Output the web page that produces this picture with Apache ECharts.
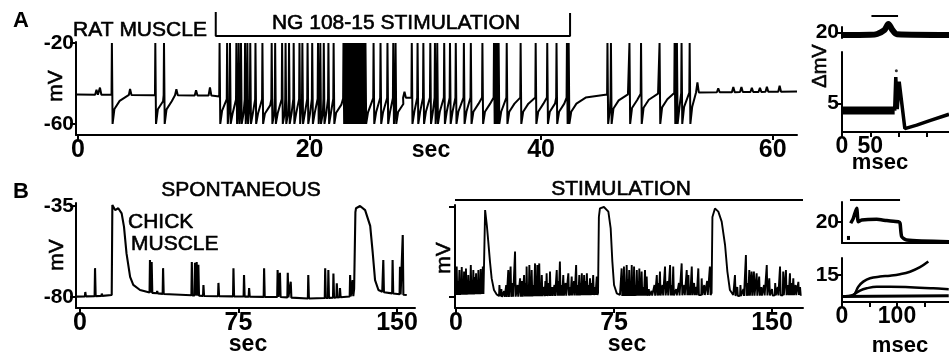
<!DOCTYPE html>
<html>
<head>
<meta charset="utf-8">
<title>NG108-15 stimulation of muscle</title>
<style>
  html, body { margin: 0; padding: 0; background: #fff; }
  #chart { width: 949px; height: 356px; }
</style>
</head>
<body>
<div id="chart"></div>
<script src="https://cdn.jsdelivr.net/npm/echarts@6.0.0/dist/echarts.min.js"></script>
<script>
// ---------- panel A : rat muscle (sec, mV) ----------
var aTicksX = [0, 20, 40, 60];
var aTicksY = [-20, -60];
var aStim = [11.9, 42.5];
var aSpikes = [2.9, 6.65, 7.4,
  12.2, 12.85, 13.1, 13.65, 13.85, 14.05, 14.4, 14.6, 14.85, 15.3, 15.9, 16.7, 17.0, 17.6, 17.9, 18.2, 18.6,
  19.1, 19.35, 19.8, 20.2, 20.7, 20.9, 21.2, 21.6, 22.05,
  22.9, 22.98, 23.06, 23.14, 23.22, 23.3, 23.38, 23.46, 23.54, 23.62, 23.7, 23.78, 23.86, 23.94,
  24.02, 24.1, 24.18, 24.26, 24.34, 24.42, 24.5, 24.58, 24.66, 24.74, 24.8,
  25.5, 26.1, 26.7, 27.2, 27.4,
  28.8, 29.3, 29.8, 30.4, 30.8, 31.0, 31.6, 32.1, 32.6, 33.3, 33.9, 34.9, 35.9, 36.05, 36.2, 36.3,
  37.0, 38.2, 39.5, 40.5, 41.3, 42.2, 42.35,
  45.7, 46.0, 47.6, 48.6, 50.2, 51.5, 51.6, 51.7, 52.1, 52.8];
var aPeak = -20, aTrough = -60;
// small synaptic bumps [t, height mV]
var aBumps = [[1.6, 2.5], [1.9, 3.5], [4.5, 3], [8.5, 3], [10.2, 2.5], [11.4, 4], [28.2, 3],
  [53.5, 5], [55.3, 2], [56.6, 2.5], [57.3, 2.5], [58.2, 2], [58.9, 2], [59.5, 2.5], [60.6, 3]];
var aBase = [[0, -45.5], [12, -46], [13, -48], [30, -47], [42.5, -47], [45, -45.5], [53, -44.5], [62, -44]];

// A insets (msec)
var aInsTicks = [0, 50, 100, 150];
var aInsLabels = [0, 50];
var aInsTopX = [0, 50, 62, 75, 82, 89, 97, 189];
var aInsTopY = [18.2, 18.4, 19, 22, 26.5, 22, 18.8, 18.3];
var aInsBar = [52, 99];
var aInsBandX = [0, 93];
var aInsBandY = [3.75, 3.75];
var aInsLowX = [93, 95, 97.5, 101, 111, 132, 155, 189];
var aInsLowY = [3.75, 9.6, 4, 8.8, 0.6, 1.2, 2, 3.1];
var aInsDot = [[96, 10.7]];

// ---------- panel B : chick muscle (sec, mV) ----------
var bTicksX = [0, 75, 150];
var bTicksY = [-35, -80];
var bLeftSpikes = [[2.5, -77.5], [7.1, -65.7], [10.3, -78.3], [33.1, -61.7], [33.9, -62.7], [36.5, -77], [39.3, -65.7],
  [52.9, -62.7], [54.4, -63], [55.2, -62.7], [56.0, -64], [58.4, -74], [65.5, -73], [72.6, -65.8], [77.6, -69.1],
  [80, -75.5], [87.1, -65.8], [93.5, -66.6], [94.6, -68], [98.3, -68], [99.7, -72.4], [108, -69.1], [116, -65.8],
  [117.5, -66.6], [119.9, -68.3], [121.5, -73.2], [123, -75.5], [127.8, -69.1], [129, -71.6],
  [143.5, -61.7], [147.9, -61.7], [151.4, -65], [152.7, -49.3]];
var bLeftPlateaus = [
  [[15.0, -79], [15.3, -34.5], [16.6, -37], [18.1, -36.1], [19.7, -38.6], [20.8, -45.2], [22, -58.4], [23.7, -70], [25.2, -74], [28.4, -76.5]],
  [[129.7, -76], [130.3, -38], [130.6, -36.1], [132.5, -35], [134.9, -37], [137.3, -44.8], [138.5, -58.2], [139.6, -71.6], [141.2, -76.5], [143.0, -77.4]]
];
var bLeftBase = [[-1.8, -79.8], [14.9, -79.3], [30, -77.5], [40, -78.5], [60, -79.5], [95, -80], [110, -80.8],
  [125, -80], [129.5, -79.5], [143.2, -77.5], [150, -78.5], [154.6, -79]];

var bMidSpikes = [[0.3, -64.8], [1.6, -66.5], [2.7, -65], [3.8, -67.3], [4.7, -65.7], [5.8, -69], [7, -64], [8.2, -66.5],
  [9.5, -68.2], [10.6, -66.5], [11.7, -66], [12.7, -64.8],
  [20.6, -74], [24.8, -66.5], [25.9, -64.8], [28, -57.3], [30.4, -70.7], [32.3, -69], [33.5, -64.8], [34.8, -64],
  [35.9, -66.5], [37.5, -63.2], [38.6, -64], [39.5, -63.2], [40.7, -69], [43, -68.2], [44.6, -67.3], [47.8, -66.5],
  [49.3, -62.3], [50.9, -69], [53.3, -68.2], [54.9, -69.8], [57, -64], [58.5, -69], [59.7, -68.2], [60.8, -69],
  [62.1, -68.2], [63.6, -70.7], [65.1, -69], [66.8, -69.8],
  [78.6, -65.7], [79.7, -64.8], [81, -64], [82.2, -66.5], [83.4, -64], [84.5, -64.8], [85.8, -66.5], [87, -65.7],
  [88.1, -67.3], [89.7, -66.5], [90.5, -69.8], [95.3, -69], [96.8, -67.3], [99.2, -64.8], [101.6, -64], [103.1, -64.8],
  [107.1, -63.2], [109.5, -66.5], [110.3, -69], [111.9, -64.8], [115, -65.7], [116.6, -70.7], [120.5, -64.8],
  [132.4, -69], [137.6, -59], [139.2, -66.5], [140.3, -67.3], [141.4, -67.3], [142.7, -68.2], [143.9, -69.8],
  [147.5, -64], [148.7, -70.7], [153.8, -64.8], [155.3, -67.3], [156.6, -66.5], [158.5, -68.2], [160.1, -70.7], [162.5, -72.4]];
// low, dense events between the larger ones
var bMidSmall = [[0.9, -72], [2.2, -74], [3.3, -71], [4.2, -73], [5.3, -75], [6.4, -72], [7.6, -74], [8.9, -70],
  [10.1, -72], [11.2, -73], [12.2, -71],
  [21.5, -76], [22.8, -77], [23.8, -74], [26.8, -73], [29.2, -74], [31.3, -72], [33, -73], [34.2, -74], [35.3, -72],
  [36.7, -74], [38.1, -73], [40.1, -74], [41.8, -75], [42.4, -72], [44, -73], [45.6, -75], [46.7, -74], [48.5, -72],
  [50.1, -74], [52, -73], [54.1, -75], [56, -72], [57.8, -74], [59.1, -73], [60.2, -74], [61.5, -72], [62.8, -74],
  [64.3, -73], [65.9, -75],
  [79.1, -72], [80.3, -74], [81.6, -71], [82.8, -73], [84, -72], [85.2, -74], [86.4, -72], [87.5, -73], [88.9, -75],
  [91.5, -76], [92.8, -77], [94.2, -74], [96, -73], [98, -74], [100.4, -72], [102.4, -74], [104.5, -76], [105.8, -73],
  [108.3, -74], [110.9, -75], [113, -73], [114, -75], [117.8, -74], [119.2, -72],
  [133.5, -75], [135, -74], [136.4, -76], [138.4, -73], [144.9, -75], [146.2, -74], [150, -76], [151.5, -73],
  [152.7, -75], [157.6, -74], [159.3, -73], [161.2, -74], [163.3, -75]];
var bMidPlateaus = [
  [[13.6, -78], [13.8, -36.5], [14.6, -44], [15.3, -52.3], [16.1, -62.3], [16.9, -70.7], [18, -76.5], [19.3, -78.7]],
  [[67.4, -78], [67.8, -40], [68.3, -35.7], [70.2, -35], [72.3, -37.3], [73.4, -45.7], [74.2, -62.3], [75, -74], [76.3, -78.2], [77.8, -79]],
  [[121.3, -78], [121.7, -40], [122.9, -35.7], [124.5, -37.3], [126.1, -42.3], [127.7, -54], [128.8, -67.3], [130, -76.5], [131.6, -79]]
];
var bMidBase = [[-0.3, -79], [13, -78.5], [19.5, -79.3], [22, -80], [66, -79], [78, -79.5], [120, -79], [132, -79.5], [164, -79]];
var bStim = [-0.5, 164.7];

// B insets (msec)
var bInsTicks = [0, 50, 100, 150];
var bInsLabels = [0, 100];
var bInsTopStartX = [9, 14.5];
var bInsTopStartY = [4.8, 4.8];
var bInsTopX = [15.8, 20.5, 26.7, 29.6, 35.8, 63, 81.3, 102.4, 105.5, 108.5, 117.6, 195];
var bInsTopY = [18.8, 23.5, 33, 20.3, 21.9, 22.5, 21.3, 20.3, 18.8, 6, 2.9, 1.2];
var bInsBar = [14.5, 105.5];
var bInsUpX = [0, 20.5, 29.6, 38.7, 50.9, 69.1, 87.3, 105.5, 123.6, 141.8, 156.9];
var bInsUpY = [3.1, 3.9, 8.5, 11.3, 13.2, 14.1, 14.6, 15.4, 16.8, 19.3, 22.4];
var bInsMidX = [20.5, 32.7, 44.9, 63.1, 87.3, 123.6, 166, 194];
var bInsMidY = [3.9, 6.3, 7.6, 8.5, 8.5, 8.2, 7.6, 7.1];
var bInsLowX = [0, 60, 194];
var bInsLowY = [3.0, 3.2, 3.5];
var bInsArrow = [[36, 25], [69, 15]];

// ---------- helpers ----------
var INK = '#000';
var NUM = "'Liberation Sans Narrow', 'Liberation Sans', sans-serif";
var TXT = "'Liberation Sans', 'DejaVu Sans', sans-serif";

function zip(xs, ys) { return xs.map(function (x, i) { return [x, ys[i]]; }); }

function interp(knots, t) {
  if (t <= knots[0][0]) return knots[0][1];
  for (var i = 1; i < knots.length; i++) {
    if (t <= knots[i][0]) {
      var a = knots[i - 1], b = knots[i];
      return a[1] + (b[1] - a[1]) * (t - a[0]) / (b[0] - a[0]);
    }
  }
  return knots[knots.length - 1][1];
}

// rat muscle trace: spike up, undershoot down, slow recovery
function buildA() {
  var ev = aSpikes.map(function (t) { return { t: t, s: true }; })
    .concat(aBumps.map(function (b) { return { t: b[0], h: b[1] }; }))
    .sort(function (a, b) { return a.t - b.t; });
  var pts = [[-0.1, interp(aBase, 0)]];
  ev.forEach(function (e, i) {
    var next = i + 1 < ev.length ? ev[i + 1].t : 62.1;
    var b = interp(aBase, e.t);
    if (e.s) {
      pts.push([e.t, b], [e.t + 0.03, aPeak], [e.t + 0.09, aTrough]);
      [[0.25, -7], [0.7, -3], [1.5, 0]].forEach(function (r) {
        if (e.t + r[0] < next - 0.03) pts.push([e.t + r[0], b + r[1]]);
      });
    } else {
      pts.push([e.t - 0.12, b], [e.t, b + e.h], [e.t + 0.12, b]);
    }
  });
  pts.push([62.1, interp(aBase, 62.1)]);
  return pts;
}

// chick muscle traces: narrow upward spikes plus slow plateaus
function buildB(spikes, plateaus, base) {
  var ev = spikes.map(function (s) {
    return { t: s[0] - 0.2, pts: [[s[0] - 0.2, null], [s[0], s[1]], [s[0] + 0.3, null]] };
  }).concat(plateaus.map(function (p) { return { t: p[0][0], pts: p }; }))
    .sort(function (a, b) { return a.t - b.t; });
  var t0 = base[0][0], t1 = base[base.length - 1][0];
  var out = [[t0, base[0][1]]];
  ev.forEach(function (e) {
    e.pts.forEach(function (p) { out.push([p[0], p[1] == null ? interp(base, p[0]) : p[1]]); });
  });
  out.push([t1, base[base.length - 1][1]]);
  return out;
}

function ax(gi, min, max, o) {
  o = o || {};
  return {
    gridIndex: gi, type: 'value', min: min, max: max,
    splitLine: { show: false },
    axisLine: { show: o.line !== false, onZero: false, lineStyle: { color: INK, width: 2 } },
    axisTick: { show: !!o.ticks, customValues: o.ticks, length: o.tickLen || 5, lineStyle: { color: INK, width: 2 } },
    axisLabel: {
      show: !!o.labels, customValues: o.labels, color: INK, fontFamily: NUM, fontWeight: 'bold',
      fontSize: o.size || 22, margin: o.margin == null ? 3 : o.margin
    }
  };
}

function line(i, data, w, extra) {
  var s = {
    type: 'line', xAxisIndex: i, yAxisIndex: i, data: data, symbol: 'none', showSymbol: false,
    lineStyle: { color: INK, width: w }, silent: true, animation: false
  };
  for (var k in extra) s[k] = extra[k];
  return s;
}

function txt(s, x, y, size, o) {
  o = o || {};
  return {
    type: 'text', x: x, y: y, rotation: o.rot || 0, silent: true,
    style: {
      text: s, x: 0, y: 0, fill: INK, stroke: INK, lineWidth: o.sw == null ? 0.6 : o.sw,
      fontSize: size, fontFamily: o.font || TXT, fontWeight: o.weight || 'normal',
      align: o.align || 'center', verticalAlign: 'middle', textAlign: o.align || 'center', textVerticalAlign: 'middle'
    }
  };
}

var gridBase = { outerBoundsMode: 'none', containLabel: false, show: false };
function grid(l, t, w, h) {
  return Object.assign({ left: l, top: t, width: w, height: h }, gridBase);
}

var option = {
  backgroundColor: '#fff',
  animation: false,
  grid: [
    grid(76, 42, 721, 93),   // 0 A main
    grid(842, 27, 107, 11),  // 1 A inset top
    grid(842, 52, 107, 80),  // 2 A inset low
    grid(76, 203, 339, 105), // 3 B spontaneous
    grid(455, 205, 348, 103),// 4 B stimulation
    grid(842, 202, 107, 41), // 5 B inset top
    grid(842, 258, 107, 44)  // 6 B inset low
  ],
  xAxis: [
    ax(0, -0.17, 62.1, { ticks: aTicksX, labels: aTicksX, size: 25 }),
    ax(1, 0, 189, { line: false }),
    ax(2, 0, 189, { ticks: aInsTicks, labels: aInsLabels, size: 23 }),
    ax(3, -1.9, 158.5, { ticks: bTicksX, labels: bTicksX, size: 25 }),
    ax(4, -0.5, 164.7, { ticks: bTicksX, labels: bTicksX, size: 25 }),
    ax(5, 0, 194.5, {}),
    ax(6, 0, 194.5, { ticks: bInsTicks, labels: bInsLabels, size: 23 })
  ],
  yAxis: [
    ax(0, -65.5, -19.5, { ticks: aTicksY, labels: aTicksY, size: 21, tickLen: 6, margin: 2 }),
    ax(1, 16, 24.25, { ticks: [20], labels: [20], size: 21, tickLen: 6, margin: 3 }),
    ax(2, 0, 14, { ticks: [5], labels: [5], size: 21, tickLen: 6, margin: 3 }),
    ax(3, -85.4, -33.5, { ticks: bTicksY, labels: bTicksY, size: 21, tickLen: 6, margin: 2 }),
    ax(4, -85.5, -34, { ticks: bTicksY, tickLen: 6 }),
    ax(5, 0, 39, { ticks: [20], labels: [20], size: 21, tickLen: 6, margin: 3 }),
    ax(6, 0, 24.4, { ticks: [15], labels: [15], size: 21, tickLen: 6, margin: 3 })
  ],
  series: [
    line(0, buildA(), 2),
    line(0, [[aStim[0], -4.7], [aStim[0], -16.5], [aStim[1], -16.5], [aStim[1], -5.1]], 2, { clip: false }),
    line(1, zip(aInsTopX, aInsTopY), 6, { smooth: 0.3, clip: false }),
    line(1, [[aInsBar[0], 32.5], [aInsBar[1], 32.5]], 2, { clip: false }),
    line(2, zip(aInsBandX, aInsBandY), 8),
    line(2, zip(aInsLowX, aInsLowY), 3.5),
    { type: 'scatter', xAxisIndex: 2, yAxisIndex: 2, data: aInsDot, symbolSize: 3, itemStyle: { color: INK }, silent: true },
    line(3, buildB(bLeftSpikes, bLeftPlateaus, bLeftBase), 2.1),
    line(4, buildB(bMidSpikes.concat(bMidSmall), bMidPlateaus, bMidBase), 1.9),
    line(4, [[bStim[0], -31.5], [bStim[1], -31.5]], 2, { clip: false }),
    line(5, zip(bInsTopStartX, bInsTopStartY), 4),
    line(5, zip(bInsTopX, bInsTopY), 3.5, { smooth: 0.2 }),
    line(5, [[bInsBar[0], 41], [bInsBar[1], 41]], 2, { clip: false }),
    line(6, zip(bInsUpX, bInsUpY), 2.5, { smooth: 0.4 }),
    line(6, zip(bInsMidX, bInsMidY), 2.5, { smooth: 0.4 }),
    line(6, zip(bInsLowX, bInsLowY), 3, {
      markLine: {
        silent: true, symbol: ['none', 'arrow'], symbolSize: 9, animation: false, label: { show: false },
        lineStyle: { color: INK, width: 2, type: 'solid' },
        data: [[{ coord: bInsArrow[0] }, { coord: bInsArrow[1] }]]
      }
    })
  ],
  graphic: [
    txt('A', 21, 21, 22, { weight: 'bold', sw: 0 }),
    txt('RAT MUSCLE', 140, 30, 21),
    txt('NG 108-15 STIMULATION', 396, 23, 21),
    txt('mV', 56, 86, 21, { rot: Math.PI / 2 }),
    txt('sec', 431, 151, 23, { weight: 'bold', sw: 0 }),
    txt('\u0394mV', 820, 66, 20, { rot: Math.PI / 2 }),
    txt('msec', 880, 163, 22, { weight: 'bold', sw: 0 }),
    txt('B', 21, 192, 22, { weight: 'bold', sw: 0 }),
    txt('SPONTANEOUS', 241, 190, 21),
    txt('CHICK', 128, 222, 21, { align: 'left' }),
    txt('MUSCLE', 131, 244, 21, { align: 'left' }),
    txt('mV', 57, 255, 21, { rot: Math.PI / 2 }),
    txt('sec', 248, 345, 23, { weight: 'bold', sw: 0 }),
    txt('STIMULATION', 621, 189, 21),
    txt('mV', 444, 258, 21, { rot: Math.PI / 2 }),
    txt('sec', 627, 345, 23, { weight: 'bold', sw: 0 }),
    txt('msec', 900, 346, 22, { weight: 'bold', sw: 0 })
  ]
};

var chart = echarts.init(document.getElementById('chart'));
chart.setOption(option);
</script>
</body>
</html>
